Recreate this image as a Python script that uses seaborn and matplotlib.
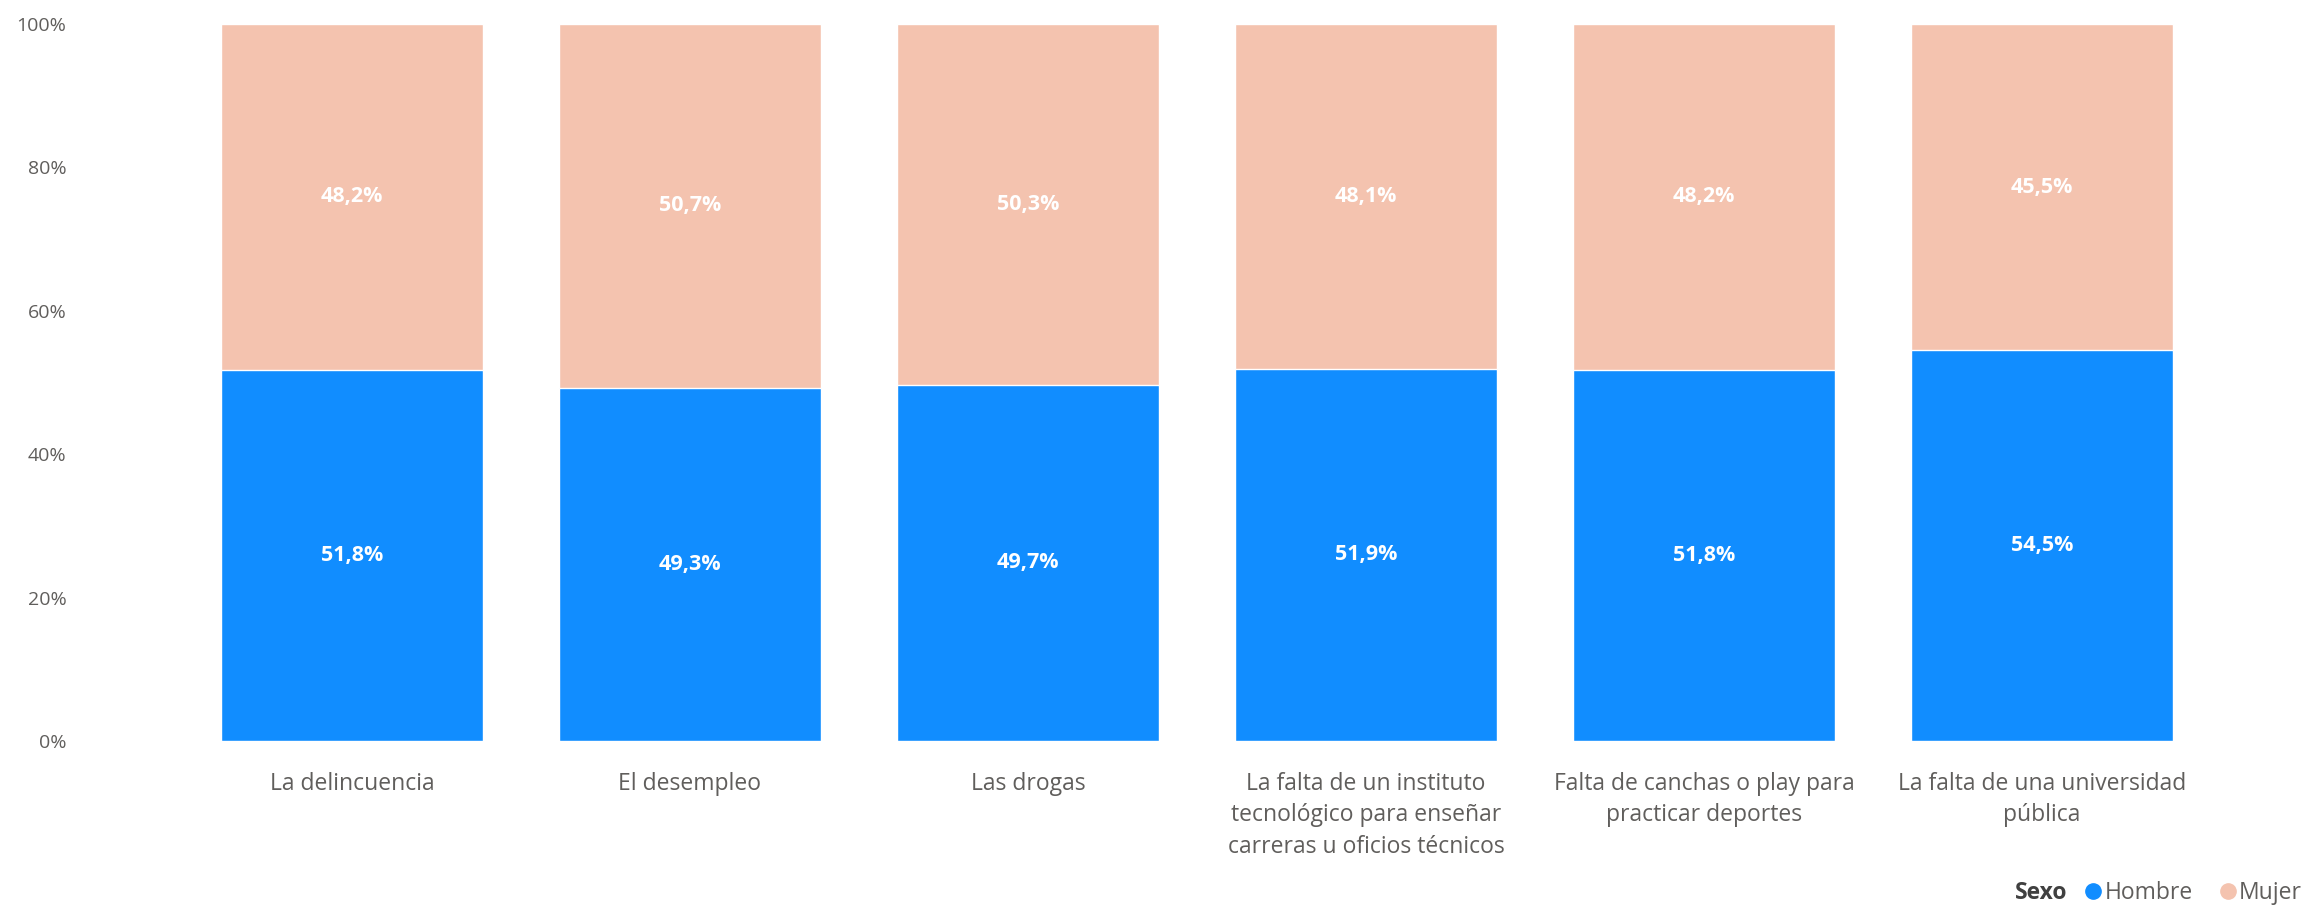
import matplotlib
matplotlib.use("Agg")
import matplotlib.pyplot as plt
from matplotlib.lines import Line2D
from matplotlib.ticker import PercentFormatter
import seaborn as sns
import pandas as pd

# datos: percepción de problemas por sexo (%)
CATEGORIAS = [
    "La delincuencia",
    "El desempleo",
    "Las drogas",
    "La falta de un instituto\ntecnológico para enseñar\ncarreras u oficios técnicos",
    "Falta de canchas o play para\npracticar deportes",
    "La falta de una universidad\npública",
]
HOMBRE = [51.8, 49.3, 49.7, 51.9, 51.8, 54.5]
MUJER = [48.2, 50.7, 50.3, 48.1, 48.2, 45.5]
Y_TICKS = [0, 20, 40, 60, 80, 100]

AZUL = "#118DFF"
ROSA = "#F4C3AF"
GRIS = "#605E5C"

sns.set_theme(style="white")
plt.rcParams["font.family"] = ["Open Sans", "DejaVu Sans"]

df = pd.DataFrame({"cat": CATEGORIAS, "Hombre": HOMBRE, "Mujer": MUJER})
df["total"] = df["Hombre"] + df["Mujer"]

fig = plt.figure(figsize=(23.13, 9.07), dpi=100)
W, H = 2313, 907
ax = fig.add_axes([183 / W, 1 - 741 / H, (2211 - 183) / W, (741 - 24) / H])

# apilado: barra total (mujer arriba) y luego hombre encima
sns.barplot(data=df, x="cat", y="total", color=ROSA, saturation=1, width=0.775, ax=ax)
sns.barplot(data=df, x="cat", y="Hombre", color=AZUL, saturation=1, width=0.775, ax=ax)

ax.bar_label(ax.containers[1], labels=[f"{v:.1f}%".replace(".", ",") for v in HOMBRE],
             label_type="center", color="white", fontsize=15.5, fontweight="bold")
for i, (h, m) in enumerate(zip(HOMBRE, MUJER)):
    ax.text(i, h + m / 2, f"{m:.1f}%".replace(".", ","), ha="center", va="center",
            color="white", fontsize=15.5, fontweight="bold")

ax.set_xlim(-0.5, len(CATEGORIAS) - 0.5)
ax.set_ylim(0, 100)
ax.set_yticks(Y_TICKS)
ax.yaxis.set_major_formatter(PercentFormatter(decimals=0))
ax.set_xlabel("")
ax.set_ylabel("")
sns.despine(ax=ax, left=True, bottom=True)
ax.tick_params(axis="y", length=0, pad=84, labelsize=14, labelcolor=GRIS)
ax.tick_params(axis="x", length=0, pad=22, labelsize=16.5, labelcolor=GRIS)
for t in ax.get_xticklabels():
    t.set_linespacing(1.42)

# leyenda
handles = [
    Line2D([], [], marker="o", linestyle="", markersize=11, color=AZUL, label="Hombre"),
    Line2D([], [], marker="o", linestyle="", markersize=11, color=ROSA, label="Mujer"),
]
fig.legend(handles=handles, loc="center right", bbox_to_anchor=(2302 / W, 1 - 893 / H),
           ncol=2, frameon=False, fontsize=16.5, handletextpad=-0.5, columnspacing=0.5,
           borderpad=0, borderaxespad=0, labelcolor=GRIS)
fig.text(2067 / W, 1 - 893 / H, "Sexo", ha="right", va="center", fontsize=16.5,
         fontweight="bold", color="#404040")

fig.savefig("out.png", dpi=100)
